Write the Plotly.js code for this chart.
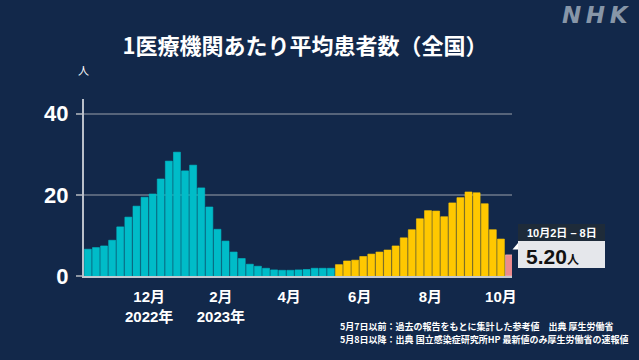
<!DOCTYPE html>
<html>
<head>
<meta charset="utf-8">
<script src="https://cdn.plot.ly/plotly-3.0.1.min.js"></script>
<style>
html,body{margin:0;padding:0;background:#12284a;}
#chart{width:639px;height:360px;}
</style>
</head>
<body>
<div id="chart"></div>
<script>
// Week-ending dates (Sunday) for each weekly bar
const weekEnds = [
  '2022-10-09','2022-10-16','2022-10-23','2022-10-30','2022-11-06','2022-11-13','2022-11-20','2022-11-27',
  '2022-12-04','2022-12-11','2022-12-18','2022-12-25','2023-01-01','2023-01-08','2023-01-15','2023-01-22',
  '2023-01-29','2023-02-05','2023-02-12','2023-02-19','2023-02-26','2023-03-05','2023-03-12','2023-03-19',
  '2023-03-26','2023-04-02','2023-04-09','2023-04-16','2023-04-23','2023-04-30','2023-05-07',
  '2023-05-14','2023-05-21','2023-05-28','2023-06-04','2023-06-11','2023-06-18','2023-06-25','2023-07-02',
  '2023-07-09','2023-07-16','2023-07-23','2023-07-30','2023-08-06','2023-08-13','2023-08-20','2023-08-27',
  '2023-09-03','2023-09-10','2023-09-17','2023-09-24','2023-10-01',
  '2023-10-08'
];
// Up to May 7: reference values (teal)
const beforeMay8 = [6.6, 7.0, 7.4, 8.8, 12.1, 14.5, 17.2, 19.4, 20.2, 23.9, 28.3, 30.5, 25.9, 27.3, 21.7, 17.0,
  11.5, 8.6, 5.9, 4.3, 2.9, 2.4, 1.9, 1.5, 1.4, 1.4, 1.5, 1.6, 1.9, 1.9, 1.9];
// From May 8: sentinel surveillance values (yellow)
const fromMay8 = [2.8, 3.7, 3.9, 4.8, 5.4, 5.9, 6.4, 7.4, 9.4, 11.4, 14.1, 16.1, 16.0, 14.6, 18.0, 19.3,
  20.7, 20.5, 17.8, 11.4, 9.1];
// Latest week (pink)
const latestValue = [5.20];
const latestLabel = '10月2日 – 8日';

const tickVals = ['2022-12-01','2023-02-01','2023-04-01','2023-06-01','2023-08-01','2023-10-01'];
const tickText = ['12月<br>2022年','2月<br>2023年','4月','6月','8月','10月'];
const yTicks = [0, 20, 40];

const colTeal = '#00bcc8', colYellow = '#ffc800', colPink = '#ec8b8d';
const values = beforeMay8.concat(fromMay8, latestValue);
const colors = beforeMay8.map(() => colTeal).concat(fromMay8.map(() => colYellow), latestValue.map(() => colPink));
const lineCols = beforeMay8.map(() => colTeal).concat(fromMay8.map(() => colYellow), latestValue.map(() => '#f6c3c3'));

const BG = '#12284a';
const numFont = 'Liberation Sans, Arial, Noto Sans CJK JP, sans-serif';
const jpFont = 'Noto Sans CJK JP, sans-serif';

// plot area in pixels: x 84..512, y 99..276
const L = 84, R = 512, T = 99, B = 276;
const px = v => (v - L) / (R - L);
const py = v => (B - v) / (B - T);

const data = [{
  type: 'bar',
  x: weekEnds,
  y: values,
  marker: {color: colors, line: {color: lineCols, width: 0.6}},
  hoverinfo: 'skip'
}];

const layout = {
  width: 639, height: 360,
  paper_bgcolor: BG, plot_bgcolor: BG,
  margin: {l: L, r: 639 - R, t: T, b: 360 - B, pad: 0},
  bargap: 0.14,
  showlegend: false,
  title: {
    text: '1医療機関あたり平均患者数（全国）',
    x: 305 / 639, xref: 'container', xanchor: 'center',
    y: 1 - 46 / 360, yref: 'container', yanchor: 'middle',
    font: {family: jpFont, size: 22, color: '#ffffff', weight: 'bold'}
  },
  xaxis: {
    type: 'date',
    range: ['2022-10-05 16:00', '2023-10-10 14:00'],
    tickmode: 'array', tickvals: tickVals, ticktext: tickText,
    ticks: '', showgrid: false, zeroline: false,
    showline: true, linecolor: '#c3c8d0', linewidth: 2,
    tickfont: {family: numFont, size: 15, color: '#ffffff', weight: 'bold'},
    ticklabelstandoff: 6,
    fixedrange: true
  },
  yaxis: {
    range: [0, 43.6],
    tickmode: 'array', tickvals: yTicks, ticktext: yTicks.map(String),
    ticks: 'outside', ticklen: 6, tickwidth: 2, tickcolor: '#8d96a3',
    showgrid: true, gridcolor: '#56647a', gridwidth: 2,
    zeroline: false,
    showline: true, linecolor: '#b9bfc9', linewidth: 2,
    tickfont: {family: numFont, size: 22, color: '#ffffff', weight: 'bold'},
    ticklabelstandoff: 3,
    fixedrange: true
  },
  shapes: [
    // tooltip header
    {type: 'rect', xref: 'paper', yref: 'paper', x0: px(518), x1: px(605), y0: py(241), y1: py(224),
     fillcolor: '#1e2b39', line: {width: 0}},
    // tooltip body
    {type: 'rect', xref: 'paper', yref: 'paper', x0: px(518), x1: px(605), y0: py(268), y1: py(241),
     fillcolor: '#e5e7eb', line: {width: 0}},
    // pointer
    {type: 'path', xref: 'paper', yref: 'paper',
     path: 'M ' + px(512.5) + ' ' + py(249.5) + ' L ' + px(518) + ' ' + py(249.5) + ' L ' + px(518) + ' ' + py(243) + ' Z',
     fillcolor: '#ffffff', line: {width: 0}}
  ],
  annotations: [
    {xref: 'paper', yref: 'paper', x: px(83), y: py(70), text: '人', showarrow: false,
     xanchor: 'center', yanchor: 'middle', font: {family: jpFont, size: 11, color: '#ffffff'}},
    {xref: 'paper', yref: 'paper', x: px(561.5), y: py(232.5), text: latestLabel, showarrow: false,
     xanchor: 'center', yanchor: 'middle', font: {family: numFont, size: 11, color: '#ffffff', weight: 'bold'}},
    {xref: 'paper', yref: 'paper', x: px(524), y: py(256), showarrow: false,
     text: latestValue[0].toFixed(2) + '<span style="font-size:12px">人</span>',
     xanchor: 'left', yanchor: 'middle', font: {family: numFont, size: 21, color: '#111111', weight: 'bold'}},
    {xref: 'paper', yref: 'paper', x: px(596), y: py(15), text: 'N\u2009H\u2009K', showarrow: false,
     xanchor: 'center', yanchor: 'middle',
     font: {family: 'DejaVu Sans, sans-serif', size: 23, color: '#8796a8', weight: 'bold', style: 'italic'}},
    {xref: 'paper', yref: 'paper', x: px(338), y: py(326), showarrow: false, xanchor: 'left', yanchor: 'middle',
     text: '5月7日以前：過去の報告をもとに集計した参考値　出典 厚生労働省',
     font: {family: jpFont, size: 9, color: '#ffffff', weight: 'bold'}},
    {xref: 'paper', yref: 'paper', x: px(338), y: py(339), showarrow: false, xanchor: 'left', yanchor: 'middle',
     text: '5月8日以降：出典 国立感染症研究所HP 最新値のみ厚生労働省の速報値',
     font: {family: jpFont, size: 9, color: '#ffffff', weight: 'bold'}}
  ]
};

Plotly.newPlot('chart', data, layout, {displayModeBar: false, staticPlot: true});
</script>
</body>
</html>
